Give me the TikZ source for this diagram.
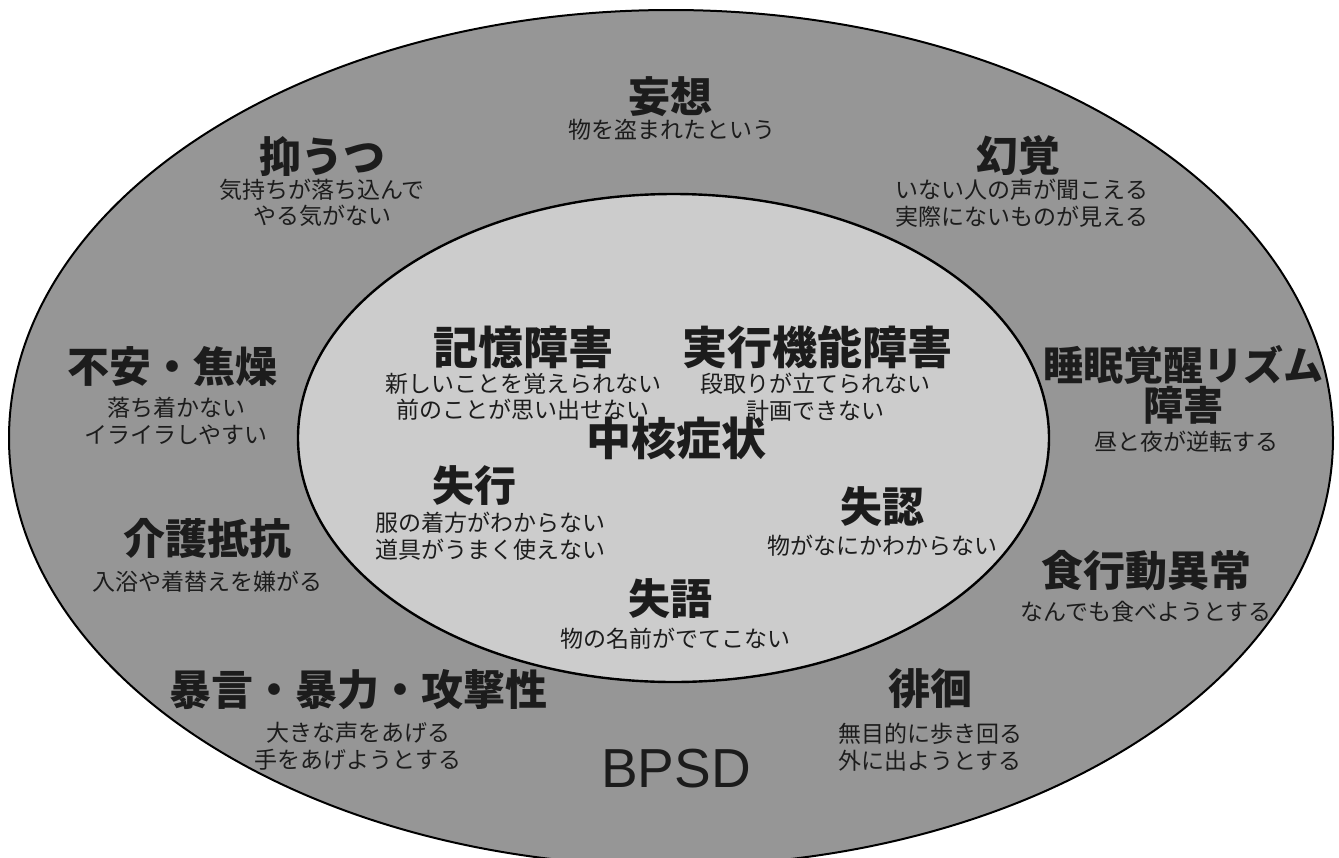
\documentclass[tikz,border=0pt]{standalone}
\usepackage{fontspec}
\newfontfamily\jp{Noto Sans CJK JP}
\newfontfamily\lsans{Liberation Sans}
\definecolor{outerfill}{RGB}{150,150,150}
\definecolor{innerfill}{RGB}{204,204,204}
\definecolor{ink}{RGB}{28,28,28}
\tikzset{
  ttl/.style={font=\jp\bfseries\fontsize{42}{46}\selectfont, text=ink, inner sep=0pt},
  bigttl/.style={font=\jp\bfseries\fontsize{45}{49}\selectfont, text=ink, inner sep=0pt},
  sub/.style={font=\jp\fontsize{23}{26.5}\selectfont, text=ink, align=center, inner sep=0pt},
  ring/.style={draw=black, line width=2pt}
}
\begin{document}
\begin{tikzpicture}[x=1pt,y=-1pt]
\useasboundingbox (0,0) rectangle (1339,857);
\clip (0,0) rectangle (1339,857);
\fill[white] (0,0) rectangle (1339,857);
% outer ellipse (BPSD)
\filldraw[ring, fill=outerfill] (671,438) ellipse [x radius=662, y radius=428];
% inner ellipse (core symptoms)
\filldraw[ring, line width=2.4pt, fill=innerfill] (673.5,438) ellipse [x radius=375.5, y radius=244];

% outer labels
\node[ttl] (moso) at (670,97) {妄想};
\node[sub] (mosos) at (672,130) {物を盗まれたという};
\node[ttl] (yokuutsu) at (322,157) {抑うつ};
\node[sub] (yokuutsus) at (322,203) {気持ちが落ち込んで\\やる気がない};
\node[ttl] (genkaku) at (1018,156) {幻覚};
\node[sub] (genkakus) at (1022,203) {いない人の声が聞こえる\\実際にないものが見える};
\node[ttl] (fuan) at (172,367) {不安・焦燥};
\node[sub] (fuans) at (176,421) {落ち着かない\\イライラしやすい};
\node[ttl, font=\jp\bfseries\fontsize{40}{44}\selectfont] (suimin) at (1183,365) {睡眠覚醒リズム};
\node[ttl, font=\jp\bfseries\fontsize{40}{44}\selectfont] (suimin2) at (1183,405) {障害};
\node[sub] (suimins) at (1186,442) {昼と夜が逆転する};
\node[ttl] (kaigo) at (207,538) {介護抵抗};
\node[sub] (kaigos) at (207,582) {入浴や着替えを嫌がる};
\node[ttl] (shoku) at (1146,571) {食行動異常};
\node[sub] (shokus) at (1146,612) {なんでも食べようとする};
\node[ttl] (bogen) at (358,690) {暴言・暴力・攻撃性};
\node[sub] (bogens) at (358,746) {大きな声をあげる\\手をあげようとする};
\node[ttl] (haikai) at (930,689) {徘徊};
\node[sub] (haikais) at (930,747) {無目的に歩き回る\\外に出ようとする};
\node[font=\lsans\fontsize{55}{60}\selectfont, text=ink, inner sep=0pt] (bpsd) at (676,769) {BPSD};

% inner labels
\node[bigttl] (kioku) at (523,347) {記憶障害};
\node[sub] (kiokus) at (523,397) {新しいことを覚えられない\\前のことが思い出せない};
\node[bigttl] (jikko) at (817,347) {実行機能障害};
\node[sub] (jikkos) at (815,397) {段取りが立てられない\\計画できない};
\node[bigttl] (chukaku) at (676,438) {中核症状};
\node[ttl] (shikko) at (474,486) {失行};
\node[sub] (shikkos) at (490,536) {服の着方がわからない\\道具がうまく使えない};
\node[ttl] (shitsunin) at (882,507) {失認};
\node[sub] (shitsunins) at (882,546) {物がなにかわからない};
\node[ttl] (shitsugo) at (670,599) {失語};
\node[sub] (shitsugos) at (675,639) {物の名前がでてこない};
\end{tikzpicture}
\end{document}
